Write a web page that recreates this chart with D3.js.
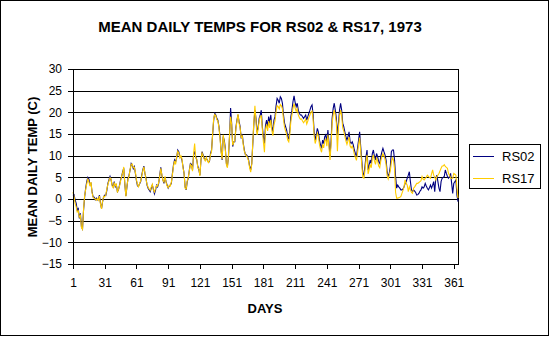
<!DOCTYPE html>
<html><head><meta charset="utf-8">
<script src="https://cdn.jsdelivr.net/npm/d3@7"></script>
<style>
html,body{margin:0;padding:0;background:#fff;}
svg{display:block;font-family:"Liberation Sans",Arial,sans-serif;}
</style></head>
<body>
<svg id="chart" width="551" height="337"></svg>
<script>
const title = "MEAN DAILY TEMPS FOR RS02 & RS17, 1973";
const xTitle = "DAYS";
const yTitle = "MEAN DAILY TEMP (C)";
const seriesNames = ["RS02", "RS17"];
const xTickDays = [1, 31, 61, 91, 121, 151, 181, 211, 241, 271, 301, 331, 361];
const yTicks = [-15, -10, -5, 0, 5, 10, 15, 20, 25, 30];

const rs02 = [
  0.8, 1.0, -0.2, -1.0, -2.5, -2.2, -4.5, -3.3, -6.4, -6.9,
  -2.5, 0.5, 2.5, 4.0, 5.0, 4.6, 3.4, 3.6, 1.7, 0.5,
  0.4, -0.2, 0.2, -0.2, 0.0, 0.9, -1.0, -2.2, -0.6, 0.5,
  0.9, 0.8, 2.0, 3.6, 4.4, 5.2, 4.4, 3.2, 2.8, 4.0,
  2.8, 3.2, 1.7, 2.1, 3.2, 4.4, 5.2, 6.3, 7.1, 3.4,
  0.7, 2.8, 4.8, 5.5, 6.7, 8.2, 7.8, 7.0, 7.5, 5.9,
  4.2, 3.0, 3.0, 3.5, 4.0, 5.5, 6.7, 7.6, 5.9, 4.8,
  3.2, 2.5, 2.1, 1.7, 2.5, 3.2, 2.3, 1.2, 2.0, 3.2,
  2.8, 3.6, 5.5, 7.3, 5.5, 4.4, 3.6, 5.0, 4.0, 3.2,
  2.5, 3.0, 3.2, 3.6, 5.9, 7.8, 9.0, 8.5, 9.5, 11.3,
  10.9, 9.8, 9.8, 9.0, 7.5, 5.9, 2.8, 2.1, 4.0, 4.8,
  6.7, 8.2, 8.0, 6.7, 10.2, 11.0, 9.8, 9.0, 7.5, 6.7,
  5.5, 9.0, 10.9, 10.2, 9.4, 9.0, 9.4, 9.0, 8.6, 8.6,
  10.5, 11.3, 14.8, 18.2, 19.8, 19.4, 18.6, 18.2, 16.7, 14.4,
  11.3, 9.0, 14.4, 13.6, 11.7, 8.2, 7.5, 9.8, 14.4, 21.0,
  17.5, 12.1, 13.2, 13.2, 16.5, 18.2, 19.4, 17.9, 16.7, 14.0,
  15.0, 12.8, 11.3, 10.2, 10.2, 9.8, 9.0, 7.5, 6.7, 8.2,
  12.8, 17.5, 20.5, 18.6, 15.4, 16.5, 18.6, 19.4, 20.5, 16.7,
  14.4, 12.8, 17.0, 18.2, 16.7, 19.0, 17.5, 19.4, 16.7, 15.5,
  18.2, 19.0, 21.5, 23.2, 22.8, 22.1, 23.6, 23.2, 22.1, 19.4,
  17.5, 16.7, 15.9, 14.4, 13.8, 15.9, 19.0, 20.5, 22.5, 23.8,
  22.3, 21.3, 22.1, 20.5, 19.8, 19.4, 19.4, 19.0, 18.6, 19.0,
  19.4, 18.2, 19.0, 19.8, 20.5, 21.3, 21.7, 19.5, 15.5, 13.6,
  14.8, 16.3, 15.5, 13.6, 12.5, 11.7, 13.6, 12.8, 14.4, 14.8,
  13.2, 15.9, 13.0, 9.8, 13.6, 18.6, 20.9, 22.1, 20.5, 18.6,
  14.8, 17.5, 20.5, 22.1, 20.5, 17.5, 16.7, 15.5, 14.4, 13.6,
  14.4, 15.5, 13.2, 12.8, 13.2, 12.5, 11.3, 10.5, 9.8, 11.7,
  13.6, 15.5, 12.1, 9.0, 5.9, 5.5, 7.5, 9.8, 11.3, 6.7,
  7.8, 9.0, 8.2, 10.5, 11.3, 9.8, 9.0, 10.5, 9.8, 8.6,
  8.2, 9.8, 10.9, 11.7, 10.9, 10.2, 9.0, 6.3, 5.2, 5.9,
  7.5, 10.9, 11.3, 11.3, 9.0, 5.2, 2.5, 3.2, 2.8, 2.5,
  2.1, 2.1, 2.3, 2.8, 3.6, 4.0, 4.8, 5.5, 6.3, 4.0,
  2.1, 1.7, 2.1, 1.8, 1.5, 0.9, 1.0, 1.3, 1.8, 2.1,
  2.8, 2.5, 2.8, 3.6, 3.0, 2.5, 2.1, 2.6, 3.2, 2.5,
  3.2, 4.0, 1.7, 4.8, 5.5, 4.0, 2.5, 1.7, 4.0, 4.8,
  5.0, 5.2, 6.7, 5.9, 5.2, 4.8, 5.2, 5.9, 3.6, 1.3,
  3.6, 4.0, 4.4, 0.9, -0.6
];

const rs17 = [
  1.6, 0.5, -1.0, -1.8, -3.0, -2.7, -4.2, -3.8, -6.6, -7.0,
  -2.2, 0.8, 2.2, 3.5, 4.6, 4.0, 3.0, 3.9, 1.5, 0.4,
  0.1, 0.0, -0.3, 0.1, -0.3, 0.7, -1.2, -2.3, -0.4, 0.6,
  0.5, 1.0, 2.3, 3.4, 4.2, 4.9, 4.6, 3.0, 2.6, 3.8,
  3.0, 3.4, 1.5, 2.3, 3.0, 4.2, 5.3, 6.0, 7.4, 3.6,
  0.6, 3.0, 4.6, 5.3, 6.9, 8.0, 8.1, 7.2, 7.3, 6.2,
  4.4, 3.3, 2.8, 3.6, 4.2, 5.3, 6.5, 7.4, 6.0, 4.6,
  3.4, 2.7, 2.3, 2.0, 2.8, 3.4, 2.1, 1.6, 2.4, 3.1,
  3.0, 3.8, 5.2, 7.1, 5.6, 4.3, 3.9, 5.2, 3.8, 3.0,
  2.6, 3.2, 3.0, 3.9, 5.6, 7.6, 8.8, 8.0, 9.8, 11.0,
  10.6, 9.5, 10.0, 9.3, 7.2, 6.0, 2.5, 2.3, 4.2, 5.0,
  6.5, 8.0, 7.7, 6.4, 10.5, 12.8, 9.5, 9.2, 7.2, 6.9,
  5.3, 9.2, 10.6, 10.0, 9.2, 8.8, 9.6, 8.8, 8.4, 8.8,
  10.2, 11.0, 15.0, 18.6, 19.5, 19.2, 18.3, 18.0, 16.4, 14.0,
  11.0, 9.2, 14.8, 13.2, 11.4, 8.0, 7.2, 10.2, 14.8, 19.0,
  17.2, 12.4, 13.0, 13.6, 16.2, 17.9, 19.6, 17.5, 16.4, 14.3,
  14.6, 12.5, 11.0, 10.4, 9.9, 9.6, 8.8, 7.2, 6.2, 8.0,
  13.2, 18.0, 21.5, 17.8, 14.8, 16.0, 18.0, 19.0, 19.2, 16.2,
  13.2, 10.8, 16.0, 17.2, 15.7, 18.0, 16.4, 18.3, 15.8, 14.6,
  17.2, 18.0, 20.2, 21.5, 21.3, 20.8, 21.8, 21.5, 20.8, 18.4,
  16.5, 15.7, 14.9, 13.6, 13.2, 15.0, 18.0, 19.4, 21.0, 22.0,
  21.0, 20.2, 20.8, 19.4, 18.8, 18.4, 18.5, 18.0, 17.6, 18.0,
  18.4, 17.3, 18.0, 18.8, 19.4, 20.0, 20.3, 18.4, 14.6, 12.8,
  13.8, 15.2, 14.5, 12.6, 11.5, 10.8, 12.6, 11.8, 13.4, 13.8,
  12.2, 14.8, 12.0, 9.0, 12.6, 17.4, 19.5, 20.5, 19.3, 17.5,
  11.0, 16.5, 19.2, 20.5, 19.3, 16.4, 15.7, 14.5, 13.4, 12.6,
  13.4, 14.3, 12.2, 11.8, 12.2, 11.5, 10.3, 9.6, 8.9, 10.6,
  12.5, 14.2, 11.0, 8.0, 5.0, 4.8, 6.5, 8.8, 10.2, 5.8,
  6.8, 8.0, 7.2, 9.4, 10.2, 8.8, 8.0, 9.4, 8.8, 7.6,
  7.2, 8.8, 9.8, 10.5, 9.9, 9.2, 8.0, 5.4, 4.6, 5.5,
  6.5, 8.5, 9.5, 9.0, 7.0, 1.5, 0.2, 0.2, 0.3, 0.4,
  0.6, 1.3, 2.0, 2.8, 4.4, 3.6, 3.2, 1.7, 2.8, 2.1,
  1.5, 1.3, 2.5, 2.8, 3.2, 3.6, 3.6, 3.8, 4.0, 4.2,
  5.2, 4.6, 4.4, 4.8, 5.0, 5.5, 5.2, 5.0, 4.8, 5.8,
  6.7, 5.5, 5.0, 4.4, 5.2, 5.5, 5.9, 6.5, 7.1, 7.6,
  7.6, 7.9, 7.5, 7.3, 7.1, 5.9, 5.5, 4.8, 4.8, 4.8,
  5.9, 5.7, 5.5, 2.5, 0.2
];

const days = rs02.map((_, i) => i + 1);
const colors = ["#000080", "#FFCC00"];

const svg = d3.select("#chart");
const L = 73, R = 458, T = 69, B = 264;

const x = d3.scaleLinear().domain([1, 365]).range([L, R]);
const y = d3.scaleLinear().domain([-15, 30]).range([B, T]);

// outer border
svg.append("rect").attr("x", 0.5).attr("y", 0.5).attr("width", 548).attr("height", 335)
  .attr("fill", "#fff").attr("stroke", "#000").attr("stroke-width", 1).attr("shape-rendering", "crispEdges");

// gridlines
svg.append("g").attr("transform", `translate(${L},0)`)
  .call(d3.axisLeft(y).tickValues(yTicks).tickSize(-(R - L)).tickFormat(""))
  .call(g => g.select(".domain").remove())
  .call(g => g.selectAll("line").attr("stroke", "#000").attr("shape-rendering", "crispEdges"));

// plot border
svg.append("rect").attr("x", L).attr("y", T).attr("width", R - L).attr("height", B - T)
  .attr("fill", "none").attr("stroke", "#000").attr("shape-rendering", "crispEdges");

// series
const line = d3.line().x((d, i) => x(days[i])).y(d => y(d));
[rs02, rs17].forEach((s, k) => {
  svg.append("path").datum(s).attr("d", line).attr("fill", "none")
    .attr("stroke", colors[k]).attr("stroke-width", 1.1).attr("stroke-linejoin", "miter");
});

// axes
const yAxis = svg.append("g").attr("transform", `translate(${L},0)`)
  .call(d3.axisLeft(y).tickValues(yTicks).tickSize(5).tickPadding(6).tickSizeOuter(0));
const xAxis = svg.append("g").attr("transform", `translate(0,${B})`)
  .call(d3.axisBottom(x).tickValues(xTickDays).tickSize(5).tickPadding(9).tickSizeOuter(0));
[yAxis, xAxis].forEach(g => {
  g.selectAll("path,line").attr("stroke", "#000").attr("shape-rendering", "crispEdges");
  g.selectAll("text").attr("fill", "#000").style("font-size", "12px")
    .style("font-family", "'Liberation Sans', Arial, sans-serif");
});

// titles
svg.append("text").attr("x", 260).attr("y", 32).attr("text-anchor", "middle")
  .style("font-size", "15px").style("font-weight", "bold").text(title);
svg.append("text").attr("x", 265).attr("y", 313).attr("text-anchor", "middle")
  .style("font-size", "13px").style("font-weight", "bold").text(xTitle);
svg.append("text").attr("transform", `translate(37,167) rotate(-90)`).attr("text-anchor", "middle")
  .style("font-size", "13px").style("font-weight", "bold").text(yTitle);

// legend
const lg = svg.append("g");
lg.append("rect").attr("x", 469.5).attr("y", 144.5).attr("width", 71).attr("height", 44)
  .attr("fill", "#fff").attr("stroke", "#000").attr("shape-rendering", "crispEdges");
seriesNames.forEach((n, k) => {
  const yy = 156 + k * 22;
  lg.append("line").attr("x1", 473).attr("x2", 494).attr("y1", yy + 0.5).attr("y2", yy + 0.5)
    .attr("stroke", colors[k]).attr("stroke-width", 1).attr("shape-rendering", "crispEdges");
  lg.append("text").attr("x", 502).attr("y", yy + 4.5).style("font-size", "13px").text(n);
});
</script>
</body></html>
